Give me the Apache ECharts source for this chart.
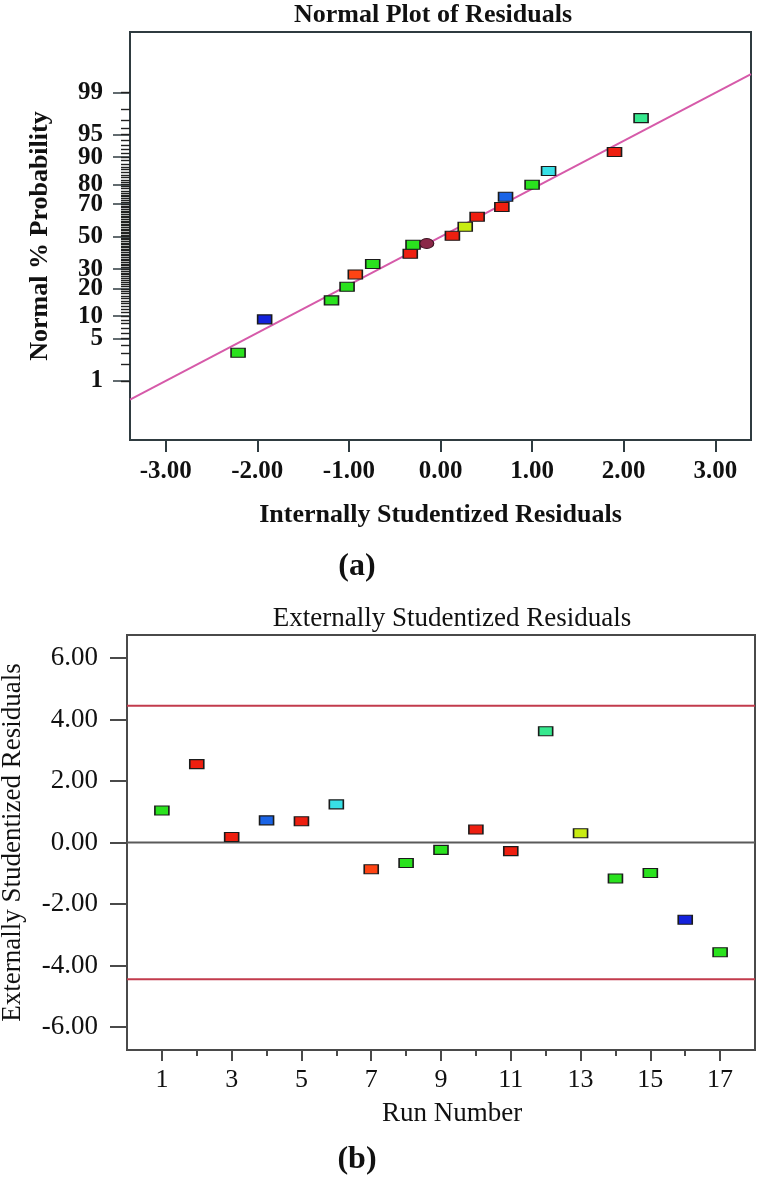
<!DOCTYPE html>
<html>
<head>
<meta charset="utf-8">
<title>Residual plots</title>
<script src="https://cdn.jsdelivr.net/npm/echarts@6/dist/echarts.min.js"></script>
<style>
    html, body { margin: 0; padding: 0; background: #ffffff; }
    #main { width: 760px; height: 1183px; }
</style>
</head>
<body>
<div id="main"></div>
<script>
    // (a) normal plot - residual vs. normal % probability
    var normResid = [-2.21, -1.92, -1.19, -1.02, -0.93, -0.74, -0.33, -0.30, 0.13, 0.27, 0.40, 0.67, 0.71, 1.00, 1.18, 1.90, 2.19];
    var normProb  = [3.05, 9.1, 15.2, 20.9, 27.1, 32.9, 39.1, 44.8, 50.5, 56.3, 62.6, 68.3, 74.0, 79.9, 85.5, 91.4, 97.2];
    var centerResid = [-0.15];
    var centerProb  = [45.6];
    var fitResid = [-3.39, 3.39];
    var fitProb  = [0.43, 99.56];
    var probTicks  = [1, 5, 10, 20, 30, 50, 70, 80, 90, 95, 99];
    var residTicks = [-3, -2, -1, 0, 1, 2, 3];

    // (b) externally studentized residuals by run
    var runNumber = [1, 2, 3, 4, 5, 6, 7, 8, 9, 10, 11, 12, 13, 14, 15, 16, 17];
    var extResid  = [1.04, 2.55, 0.18, 0.72, 0.69, 1.24, -0.87, -0.67, -0.24, 0.42, -0.28, 3.62, 0.30, -1.17, -0.99, -2.51, -3.57];
    var runTicks  = [1, 3, 5, 7, 9, 11, 13, 15, 17];
    var runMinorTicks = [2, 4, 6, 8, 10, 12, 14, 16];
    var extTicks  = [-6, -4, -2, 0, 2, 4, 6];
    var tLimit = 4.45;

    // marker colours (style only)
    var G = '#2ae21e', R = '#ee1f10', O = '#ff4414', B1 = '#1a64e6', B2 = '#1422dc',
        C = '#38e0e6', T = '#36e88e', Y = '#c8ec12';
    var normColors = [G, B2, G, G, O, G, R, G, R, Y, R, R, B1, G, C, R, T];
    var runColors  = [G, R, R, B1, R, C, O, G, G, R, R, T, Y, G, G, B2, G];

    var serif = '"Liberation Serif", "DejaVu Serif", serif';
    var frameA = '#2f3b40';
    var frameB = '#4a4a4a';
    var zMin = -3.28, zMax = 3.30;

    // inverse standard normal (Acklam) for the probability scale
    function normInv(p) {
        var a = [-3.969683028665376e+01, 2.209460984245205e+02, -2.759285104469687e+02, 1.383577518672690e+02, -3.066479806614716e+01, 2.506628277459239e+00];
        var b = [-5.447609879822406e+01, 1.615858368580409e+02, -1.556989798598866e+02, 6.680131188771972e+01, -1.328068155288572e+01];
        var c = [-7.784894002430293e-03, -3.223964580411365e-01, -2.400758277161838e+00, -2.549732539343734e+00, 4.374664141464968e+00, 2.938163982698783e+00];
        var d = [7.784695709041462e-03, 3.224671290700398e-01, 2.445134137142996e+00, 3.754408661907416e+00];
        var pl = 0.02425, q, r;
        if (p < pl) {
            q = Math.sqrt(-2 * Math.log(p));
            return (((((c[0]*q+c[1])*q+c[2])*q+c[3])*q+c[4])*q+c[5]) / ((((d[0]*q+d[1])*q+d[2])*q+d[3])*q+1);
        }
        if (p > 1 - pl) {
            q = Math.sqrt(-2 * Math.log(1 - p));
            return -(((((c[0]*q+c[1])*q+c[2])*q+c[3])*q+c[4])*q+c[5]) / ((((d[0]*q+d[1])*q+d[2])*q+d[3])*q+1);
        }
        q = p - 0.5; r = q * q;
        return (((((a[0]*r+a[1])*r+a[2])*r+a[3])*r+a[4])*r+a[5])*q / (((((b[0]*r+b[1])*r+b[2])*r+b[3])*r+b[4])*r+1);
    }
    function pz(pct) { return normInv(pct / 100); }

    var majorZ = probTicks.map(pz);
    var minorZ = [];
    for (var k = 1; k <= 99; k++) { minorZ.push(pz(k)); }

    var normData = normResid.map(function (x, i) {
        return { value: [x, pz(normProb[i])], itemStyle: { color: normColors[i] } };
    });
    var centerData = centerResid.map(function (x, i) { return [x, pz(centerProb[i])]; });
    var fitData = fitResid.map(function (x, i) { return [x, pz(fitProb[i])]; });
    var runData = runNumber.map(function (n, i) {
        return { value: [n, extResid[i]], itemStyle: { color: runColors[i] } };
    });

    function probLabel(v) {
        for (var i = 0; i < majorZ.length; i++) {
            if (Math.abs(majorZ[i] - v) < 1e-6) return String(probTicks[i]);
        }
        return '';
    }

    var gridA = { left: 130, top: 32, width: 621, height: 408 };
    var gridB = { left: 127, top: 635, width: 628, height: 415 };

    var chart = echarts.init(document.getElementById('main'), null, { renderer: 'canvas' });
    var option = {
        animation: false,
        backgroundColor: '#ffffff',
        textStyle: { fontFamily: serif, color: '#111' },
        graphic: [
            { type: 'text', x: 433, y: 15, style: { text: 'Normal Plot of Residuals', font: 'bold 26px ' + serif, fill: '#111', textAlign: 'center', textVerticalAlign: 'middle' } },
            { type: 'text', x: 357, y: 567, style: { text: '(a)', font: 'bold 32px ' + serif, fill: '#111', textAlign: 'center', textVerticalAlign: 'middle' } },
            { type: 'text', x: 452, y: 619, style: { text: 'Externally Studentized Residuals', font: '27px ' + serif, fill: '#111', textAlign: 'center', textVerticalAlign: 'middle' } },
            { type: 'text', x: 357, y: 1160, style: { text: '(b)', font: 'bold 32px ' + serif, fill: '#111', textAlign: 'center', textVerticalAlign: 'middle' } }
        ],
        grid: [
            Object.assign({ show: true, borderColor: frameA, borderWidth: 2, outerBoundsMode: 'none' }, gridA),
            Object.assign({ show: true, borderColor: frameB, borderWidth: 2, outerBoundsMode: 'none' }, gridB),
            // overlay grids that only carry the minor tick axes
            Object.assign({ show: false, outerBoundsMode: 'none' }, gridA),
            Object.assign({ show: false, outerBoundsMode: 'none' }, gridB)
        ],
        xAxis: [
            {
                gridIndex: 0, type: 'value', min: -3.39, max: 3.39,
                axisLine: { show: true, onZero: false, lineStyle: { color: frameA, width: 2 } },
                axisTick: { show: true, customValues: residTicks, length: 12, lineStyle: { color: frameA, width: 2 } },
                axisLabel: { customValues: residTicks, margin: 19, fontSize: 25, fontWeight: 'bold', color: '#111', fontFamily: serif,
                    formatter: function (v) { return v.toFixed(2); } },
                splitLine: { show: false },
                name: 'Internally Studentized Residuals', nameLocation: 'middle', nameGap: 62,
                nameTextStyle: { fontSize: 26, fontWeight: 'bold', color: '#111', fontFamily: serif }
            },
            {
                gridIndex: 1, type: 'value', min: 0, max: 18,
                axisLine: { show: true, onZero: false, lineStyle: { color: frameB, width: 2 } },
                axisTick: { show: true, customValues: runTicks, length: 11, lineStyle: { color: frameB, width: 2 } },
                axisLabel: { customValues: runTicks, margin: 17, fontSize: 26, color: '#111', fontFamily: serif },
                splitLine: { show: false },
                name: 'Run Number', nameLocation: 'middle', nameGap: 50,
                nameTextStyle: { fontSize: 27, color: '#111', fontFamily: serif, padding: [0, 0, 0, 22] }
            },
            { gridIndex: 2, type: 'value', min: -3.39, max: 3.39, show: false },
            {
                gridIndex: 3, type: 'value', min: 0, max: 18, position: 'bottom',
                axisLine: { show: false, onZero: false },
                axisTick: { show: true, customValues: runMinorTicks, length: 6, lineStyle: { color: frameB, width: 2 } },
                axisLabel: { show: false },
                splitLine: { show: false }
            }
        ],
        yAxis: [
            {
                gridIndex: 0, type: 'value', min: zMin, max: zMax,
                axisLine: { show: true, onZero: false, lineStyle: { color: frameA, width: 2 } },
                axisTick: { show: true, customValues: majorZ, length: 17, lineStyle: { color: frameA, width: 1.5 } },
                axisLabel: { customValues: majorZ, margin: 27, fontSize: 25, fontWeight: 'bold', color: '#111', fontFamily: serif,
                    formatter: probLabel },
                splitLine: { show: false },
                name: 'Normal % Probability', nameLocation: 'middle', nameGap: 77,
                nameTextStyle: { fontSize: 26, fontWeight: 'bold', color: '#111', fontFamily: serif }
            },
            {
                gridIndex: 1, type: 'value', min: -6.75, max: 6.75,
                axisLine: { show: true, onZero: false, lineStyle: { color: frameB, width: 2 } },
                axisTick: { show: true, customValues: extTicks, length: 17, lineStyle: { color: frameB, width: 2 } },
                axisLabel: { customValues: extTicks, margin: 29, fontSize: 27, color: '#111', fontFamily: serif,
                    formatter: function (v) { return v.toFixed(2); } },
                splitLine: { show: false },
                name: 'Externally Studentized Residuals', nameLocation: 'middle', nameGap: 101,
                nameTextStyle: { fontSize: 27, color: '#111', fontFamily: serif }
            },
            {
                gridIndex: 2, type: 'value', min: zMin, max: zMax, position: 'left',
                axisLine: { show: false, onZero: false },
                axisTick: { show: true, customValues: minorZ, length: 9, lineStyle: { color: '#222', width: 1.4 } },
                axisLabel: { show: false },
                splitLine: { show: false }
            },
            { gridIndex: 3, type: 'value', min: -6.75, max: 6.75, show: false }
        ],
        series: [
            {
                type: 'line', xAxisIndex: 0, yAxisIndex: 0, data: fitData, symbol: 'none', silent: true,
                lineStyle: { color: '#d65aa9', width: 2 }, z: 2
            },
            {
                type: 'scatter', xAxisIndex: 0, yAxisIndex: 0, data: normData, symbol: 'rect', symbolSize: [14, 9],
                itemStyle: { borderColor: '#1b1b1b', borderWidth: 1.3, opacity: 1 }, z: 3
            },
            {
                type: 'scatter', xAxisIndex: 0, yAxisIndex: 0, data: centerData, symbol: 'circle', symbolSize: [14, 10],
                itemStyle: { color: '#8a2848', borderColor: '#3a1420', borderWidth: 1, opacity: 1 }, z: 3
            },
            {
                type: 'line', xAxisIndex: 1, yAxisIndex: 1, symbol: 'none', silent: true,
                data: [[0, tLimit], [18, tLimit]], lineStyle: { color: '#c23b4c', width: 2 }, z: 2
            },
            {
                type: 'line', xAxisIndex: 1, yAxisIndex: 1, symbol: 'none', silent: true,
                data: [[0, -tLimit], [18, -tLimit]], lineStyle: { color: '#c23b4c', width: 2 }, z: 2
            },
            {
                type: 'line', xAxisIndex: 1, yAxisIndex: 1, symbol: 'none', silent: true,
                data: [[0, 0], [18, 0]], lineStyle: { color: '#5a5a5a', width: 2 }, z: 2
            },
            {
                type: 'scatter', xAxisIndex: 1, yAxisIndex: 1, data: runData, symbol: 'rect', symbolSize: [14, 9],
                itemStyle: { borderColor: '#1b1b1b', borderWidth: 1.3, opacity: 1 }, z: 3
            }
        ]
    };
    chart.setOption(option);
</script>
</body>
</html>
